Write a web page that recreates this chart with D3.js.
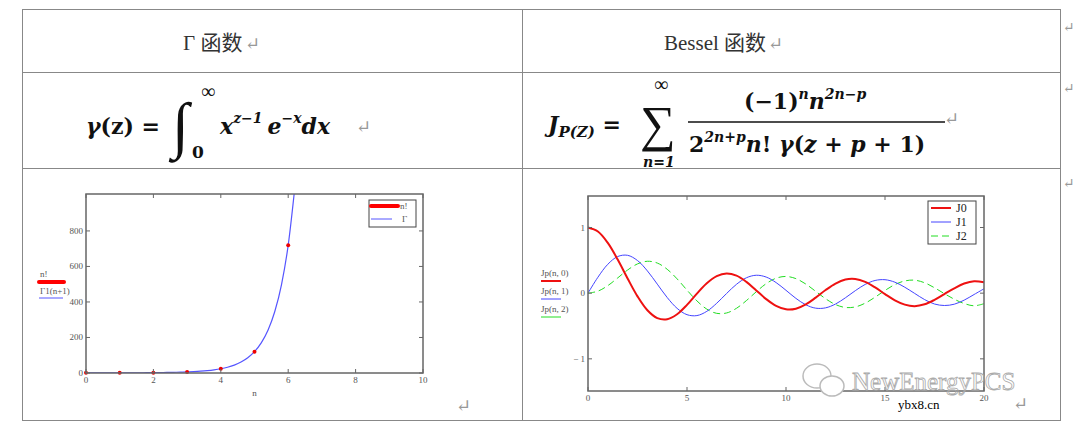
<!DOCTYPE html>
<html><head><meta charset="utf-8">
<script src="https://cdn.jsdelivr.net/npm/d3@7"></script>
<style>
body{margin:0;background:#fff}
text{font-family:"Liberation Serif","DejaVu Serif","Noto Sans CJK SC",serif}
.tk{font-size:9px;fill:#555}
.fm{font-weight:bold;font-family:"DejaVu Serif",serif;fill:#111}
</style></head><body>
<svg id="c" width="1080" height="429"></svg>
<script>
// gamma chart data
var gx = [0,.2,.4,.6,.8,1,1.2,1.4,1.6,1.8,2,2.2,2.4,2.6,2.8,3,3.2,3.4,3.6,3.8,4,4.2,4.4,4.6,4.8,5,5.2,5.4,5.6,5.8,6,6.2]
var gy = [1,.918,.887,.894,.931,1,1.102,1.242,1.430,1.676,2,2.424,2.981,3.717,4.694,6,7.757,10.14,13.38,17.84,24,32.58,44.6,61.55,85.62,120,169.4,240.8,344.7,496.6,720,1050]
var factN = [0,1,2,3,4,5,6]
var factV = [1,1,2,6,24,120,720]
var gXTicks = [0,2,4,6,8,10], gYTicks = [0,200,400,600,800]
// bessel data, step 0.5 from 0 to 20
var bx = d3.range(41).map(i => i*0.5)
var j0 = [1,.9385,.7652,.5118,.2239,-.0484,-.2601,-.3801,-.3971,-.3205,-.1776,-.0068,.1506,.2601,.3001,.2663,.1717,.0419,-.0903,-.1939,-.2459,-.2366,-.1712,-.0677,.0477,.1469,.2069,.2150,.1711,.0875,-.0142,-.1092,-.1749,-.1973,-.1699,-.1014,-.0134,.0738,.1466,.1830,.1670]
var j1 = [0,.2423,.4401,.5579,.5767,.4971,.3391,.1374,-.0660,-.2311,-.3276,-.3414,-.2767,-.1538,-.0047,.1352,.2346,.2731,.2453,.1613,.0435,-.0789,-.1768,-.2284,-.2234,-.1655,-.0703,.0380,.1334,.1934,.2051,.1672,.0904,-.0040,-.0977,-.1650,-.1880,-.1680,-.1057,-.0200,.0668]
var j2 = [0,.0306,.1149,.2321,.3528,.4461,.4861,.4586,.3641,.2178,.0466,-.1173,-.2429,-.3074,-.3014,-.2303,-.1130,.0223,.1448,.2279,.2546,.2216,.1390,.0280,-.0849,-.1734,-.2177,-.2094,-.1520,-.0609,.0416,.1308,.1862,.1978,.1584,.0826,-.0075,-.0920,-.1578,-.1917,-.1603]
var bXTicks = [0,5,10,15,20], bYTicks = [-1,0,1]

var svg = d3.select('#c')
var grey = '#999'

// table
var T = svg.append('g').attr('stroke','#888').attr('stroke-width',1)
T.append('rect').attr('x',22.5).attr('y',9.5).attr('width',1038).attr('height',411).attr('fill','none')
T.append('line').attr('x1',22).attr('x2',1061).attr('y1',72.5).attr('y2',72.5)
T.append('line').attr('x1',22).attr('x2',1061).attr('y1',168.5).attr('y2',168.5)
T.append('line').attr('x1',522.5).attr('x2',522.5).attr('y1',9).attr('y2',421)

function ret(x,y,s){ svg.append('text').attr('x',x).attr('y',y).attr('font-size',s||18).attr('fill',grey).attr('font-family','DejaVu Sans').text('↵') }
function fm(x,y,s,it){ return svg.append('text').attr('class','fm').attr('x',x).attr('y',y).attr('font-size',s).attr('font-style',it?'italic':'normal') }

svg.append('text').attr('x',183).attr('y',50).attr('font-size',21).attr('fill','#333').text('Γ 函数')
ret(245,50)
svg.append('text').attr('x',664).attr('y',50).attr('font-size',21).attr('fill','#333').text('Bessel 函数')
ret(768,50)
ret(1063,32,14); ret(1063,93,14); ret(1063,188,14)

// gamma formula
var f1 = fm(86,134,22,true)
f1.append('tspan').text('γ')
f1.append('tspan').attr('font-style','normal').text('(z) = ')
svg.append('text').attr('x',172).attr('y',146).attr('font-size',62).attr('fill','#111').attr('font-family','Liberation Serif').attr('font-style','italic').text('∫')
svg.append('text').attr('x',201).attr('y',98).attr('font-size',20).attr('fill','#111').attr('font-family','Liberation Serif').text('∞')
fm(192,158,17,false).text('0')
var f2 = fm(220,134,22,true)
f2.append('tspan').text('x')
f2.append('tspan').attr('font-size',14).attr('dy',-11).text('z−1 ')
f2.append('tspan').attr('dy',11).text('e')
f2.append('tspan').attr('font-size',14).attr('dy',-11).text('−x')
f2.append('tspan').attr('dy',11).text('dx')
ret(356,133)

// bessel formula
var f3 = fm(548,132,22,true)
f3.append('tspan').text('J')
f3.append('tspan').attr('font-size',15).attr('dy',5).text('P(Z)')
f3.append('tspan').attr('dy',-5).attr('font-style','normal').text(' =')
svg.append('text').attr('x',640).attr('y',141).attr('font-size',50).attr('fill','#111').attr('font-family','Liberation Serif').text('∑')
svg.append('text').attr('x',654).attr('y',91).attr('font-size',20).attr('fill','#111').attr('font-family','Liberation Serif').text('∞')
fm(643,167,14,true).text('n=1')
var f4 = fm(744,109,22,false)
f4.append('tspan').text('(−1)')
f4.append('tspan').attr('font-style','italic').attr('font-size',14).attr('dy',-10).text('n')
f4.append('tspan').attr('font-style','italic').attr('dy',10).text('n')
f4.append('tspan').attr('font-style','italic').attr('font-size',14).attr('dy',-10).text('2n−p')
svg.append('line').attr('x1',688).attr('x2',945).attr('y1',122).attr('y2',122).attr('stroke','#111').attr('stroke-width',1.5)
var f5 = fm(689,152,22,false)
f5.append('tspan').text('2')
f5.append('tspan').attr('font-style','italic').attr('font-size',14).attr('dy',-10).text('2n+p')
f5.append('tspan').attr('font-style','italic').attr('dy',10).text('n')
f5.append('tspan').text('! ')
f5.append('tspan').attr('font-style','italic').text('γ')
f5.append('tspan').text('(')
f5.append('tspan').attr('font-style','italic').text('z')
f5.append('tspan').text(' + ')
f5.append('tspan').attr('font-style','italic').text('p')
f5.append('tspan').text(' + 1)')
ret(944,125)

function frame(g,x,y,xt,yt){
  g.append('rect').attr('x',x.range()[0]).attr('y',y.range()[1]).attr('width',x.range()[1]-x.range()[0]).attr('height',y.range()[0]-y.range()[1]).attr('fill','none').attr('stroke','#666').attr('stroke-width',1.5)
  var tk = g.append('g').attr('stroke','#666')
  xt.forEach(v=>{ tk.append('line').attr('x1',x(v)).attr('x2',x(v)).attr('y1',y.range()[0]).attr('y2',y.range()[0]-4)
                  tk.append('line').attr('x1',x(v)).attr('x2',x(v)).attr('y1',y.range()[1]).attr('y2',y.range()[1]+4)
                  g.append('text').attr('class','tk').attr('x',x(v)).attr('y',y.range()[0]+10).attr('text-anchor','middle').text(v) })
  yt.forEach(v=>{ tk.append('line').attr('y1',y(v)).attr('y2',y(v)).attr('x1',x.range()[0]).attr('x2',x.range()[0]+4)
                  tk.append('line').attr('y1',y(v)).attr('y2',y(v)).attr('x1',x.range()[1]).attr('x2',x.range()[1]-4)
                  g.append('text').attr('class','tk').attr('x',x.range()[0]-3).attr('y',y(v)+3).attr('text-anchor','end').text(v<0?'− '+(-v):v) })
}

// gamma chart
var g1 = svg.append('g')
var x1 = d3.scaleLinear().domain([0,10]).range([86,423])
var y1 = d3.scaleLinear().domain([0,1008]).range([373,194])
svg.append('clipPath').attr('id','cp1').append('rect').attr('x',86).attr('y',194).attr('width',337).attr('height',179)
g1.append('path').datum(gx.map((v,i)=>[v,gy[i]])).attr('clip-path','url(#cp1)')
  .attr('d',d3.line().x(d=>x1(d[0])).y(d=>y1(d[1])).curve(d3.curveMonotoneX)).attr('fill','none').attr('stroke','#5555ff').attr('stroke-width',1.2)
g1.selectAll('circle').data(factN).join('circle').attr('cx',d=>x1(d)).attr('cy',(d,i)=>y1(factV[i])).attr('r',2).attr('fill','#e00')
frame(g1,x1,y1,gXTicks,gYTicks)
g1.append('text').attr('class','tk').attr('x',x1(5)).attr('y',396).attr('text-anchor','middle').text('n')
g1.append('rect').attr('x',369).attr('y',200).attr('width',47).attr('height',27).attr('fill','#fff').attr('stroke','#444')
g1.append('line').attr('x1',371).attr('x2',398).attr('y1',206).attr('y2',206).attr('stroke','#f00').attr('stroke-width',4).attr('stroke-linecap','round')
g1.append('text').attr('class','tk').attr('x',400).attr('y',209).attr('fill','#222').text('n!')
g1.append('line').attr('x1',371).attr('x2',392).attr('y1',219).attr('y2',219).attr('stroke','#55f')
g1.append('text').attr('class','tk').attr('x',402).attr('y',222).attr('fill','#222').text('Γ')
g1.append('text').attr('class','tk').attr('x',40).attr('y',277).text('n!')
g1.append('line').attr('x1',39).attr('x2',64).attr('y1',282).attr('y2',282).attr('stroke','#f00').attr('stroke-width',4).attr('stroke-linecap','round')
g1.append('text').attr('class','tk').attr('x',40).attr('y',294).text('Γ1(n+1)')
g1.append('line').attr('x1',39).attr('x2',63).attr('y1',298).attr('y2',298).attr('stroke','#55f')
ret(456,412)

// bessel chart
var g2 = svg.append('g')
var x2 = d3.scaleLinear().domain([0,20]).range([588,984])
var y2 = d3.scaleLinear().domain([-1.49,1.48]).range([391,196])
var ln = d3.line().x((d,i)=>x2(bx[i])).y(d=>y2(d)).curve(d3.curveCatmullRom)
g2.append('path').datum(j2).attr('d',ln).attr('fill','none').attr('stroke','#22dd22').attr('stroke-width',1).attr('stroke-dasharray','7,4')
g2.append('path').datum(j1).attr('d',ln).attr('fill','none').attr('stroke','#4444ff').attr('stroke-width',1)
g2.append('path').datum(j0).attr('d',ln).attr('fill','none').attr('stroke','#ee1111').attr('stroke-width',2)
frame(g2,x2,y2,bXTicks,bYTicks)
g2.append('rect').attr('x',928).attr('y',201).attr('width',48).attr('height',43).attr('fill','#fff').attr('stroke','#444')
var lg = [['J0','#ee1111',2,null],['J1','#4444ff',1,null],['J2','#22dd22',1,'7,4']]
lg.forEach((d,i)=>{
  g2.append('line').attr('x1',931).attr('x2',951).attr('y1',208+i*14).attr('y2',208+i*14).attr('stroke',d[1]).attr('stroke-width',d[2]).attr('stroke-dasharray',d[3])
  g2.append('text').attr('x',956).attr('y',212+i*14).attr('font-size',12).attr('fill','#222').text(d[0])
})
var sl = [['Jp(n, 0)','#ee1111',2],['Jp(n, 1)','#4444ff',1],['Jp(n, 2)','#22dd22',1]]
sl.forEach((d,i)=>{
  g2.append('text').attr('class','tk').attr('x',541).attr('y',276+i*18).text(d[0])
  g2.append('line').attr('x1',541).attr('x2',561).attr('y1',281+i*18).attr('y2',281+i*18).attr('stroke',d[1]).attr('stroke-width',d[2])
})
// watermark (wechat-like bubbles)
var wm = svg.append('g').attr('fill','#fff').attr('stroke','#bbb').attr('stroke-width',1.5)
wm.append('ellipse').attr('cx',817).attr('cy',376).attr('rx',14).attr('ry',12)
wm.append('ellipse').attr('cx',832).attr('cy',386).attr('rx',12).attr('ry',10)
svg.append('text').attr('x',852).attr('y',390).attr('font-size',25).attr('fill','none').attr('stroke','#aaa').attr('stroke-width',0.8).attr('font-family','DejaVu Sans').text('NewEnergyPCS')
svg.append('rect').attr('x',895).attr('y',398).attr('width',72).attr('height',14).attr('fill','#fff')
svg.append('text').attr('x',898).attr('y',409).attr('font-size',13).attr('fill','#000').attr('font-family','DejaVu Sans Mono').text('ybx8.cn')
ret(1013,410)
</script></body></html>
